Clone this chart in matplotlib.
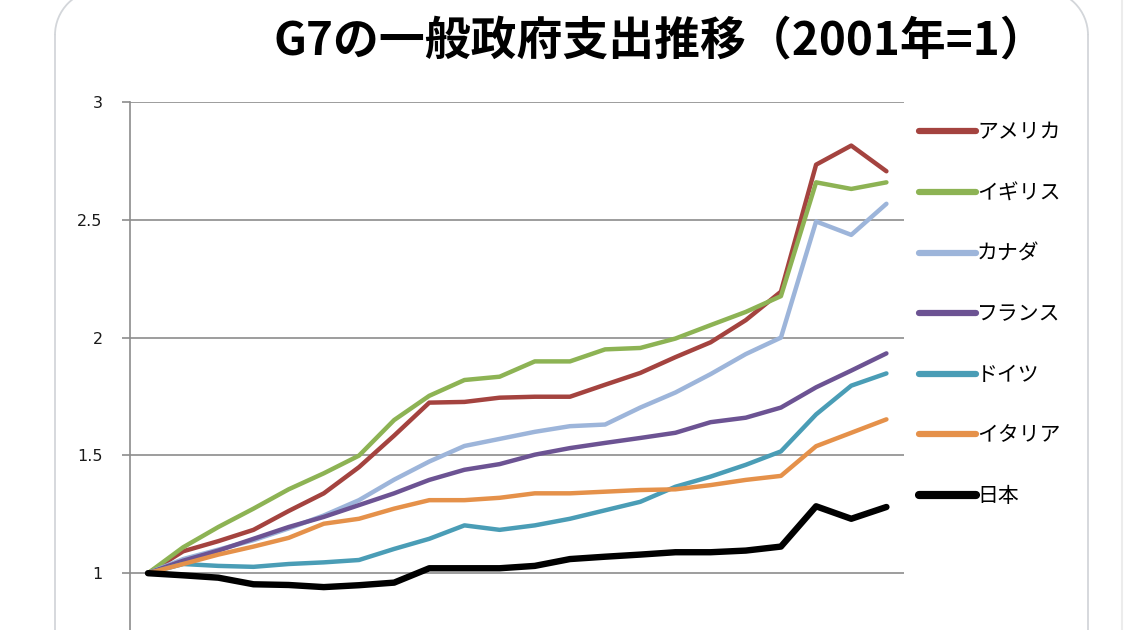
import matplotlib
matplotlib.use("Agg")
import matplotlib.pyplot as plt
from matplotlib.patches import Arc
from matplotlib.lines import Line2D
from matplotlib.transforms import IdentityTransform

years = list(range(2001, 2023))

america = [1.00, 1.093, 1.136, 1.184, 1.264, 1.339, 1.45, 1.584, 1.724, 1.727, 1.745,
           1.749, 1.749, 1.80, 1.85, 1.917, 1.98, 2.074, 2.195, 2.734, 2.815, 2.706]
uk = [1.00, 1.11, 1.196, 1.274, 1.356, 1.424, 1.499, 1.65, 1.753, 1.82, 1.834,
      1.899, 1.899, 1.95, 1.956, 1.996, 2.053, 2.109, 2.176, 2.659, 2.631, 2.659]
canada = [1.00, 1.06, 1.10, 1.14, 1.19, 1.245, 1.31, 1.397, 1.474, 1.54, 1.57,
          1.60, 1.624, 1.631, 1.703, 1.767, 1.845, 1.93, 2.0, 2.493, 2.436, 2.568]
france = [1.00, 1.053, 1.096, 1.146, 1.196, 1.239, 1.289, 1.339, 1.396, 1.439, 1.463,
          1.503, 1.531, 1.553, 1.574, 1.596, 1.641, 1.66, 1.703, 1.789, 1.86, 1.933]
germany = [1.00, 1.039, 1.031, 1.027, 1.039, 1.046, 1.056, 1.103, 1.146, 1.203, 1.184,
           1.203, 1.231, 1.267, 1.303, 1.367, 1.41, 1.46, 1.517, 1.674, 1.796, 1.848]
italy = [1.00, 1.039, 1.079, 1.113, 1.15, 1.21, 1.231, 1.274, 1.31, 1.31, 1.32,
         1.339, 1.339, 1.346, 1.353, 1.356, 1.374, 1.396, 1.413, 1.539, 1.596, 1.653]
japan = [1.00, 0.991, 0.981, 0.953, 0.95, 0.941, 0.949, 0.96, 1.021, 1.021, 1.021,
         1.031, 1.06, 1.07, 1.079, 1.089, 1.089, 1.096, 1.113, 1.284, 1.231, 1.281]

labels = ["アメリカ", "イギリス", "カナダ", "フランス", "ドイツ", "イタリア", "日本"]
series = [america, uk, canada, france, germany, italy, japan]
colors = ["#a4433f", "#8db354", "#9db5da", "#6c5393", "#4a9db6", "#e5914a", "#000000"]
widths = [3.2, 3.2, 3.2, 3.2, 3.2, 3.2, 4.6]

jp = ["Noto Sans CJK JP", "DejaVu Sans"]

fig = plt.figure(figsize=(11.4, 6.3), dpi=100)
W, H = 1140, 630

# card border of the screenshot (pixel coords, origin bottom-left)
border = dict(transform=IdentityTransform(), color="#d3d6da", linewidth=1.3, zorder=-1)
r = 45
fig.add_artist(Line2D([55, 55], [-5, H - 35], **border))
fig.add_artist(Line2D([1088, 1088], [-5, H - 35], **border))
fig.add_artist(Arc((55 + r, H - 35), 2 * r, 2 * r, theta1=90, theta2=180,
                   transform=IdentityTransform(), edgecolor="#d3d6da", linewidth=1.3))
fig.add_artist(Arc((1088 - r, H - 35), 2 * r, 2 * r, theta1=0, theta2=90,
                   transform=IdentityTransform(), edgecolor="#d3d6da", linewidth=1.3))
fig.add_artist(Line2D([1122, 1122], [0, H], transform=IdentityTransform(),
                      color="#ececec", linewidth=1.5, zorder=-1))

# y=3 at 102 px, y=0.5 at 691 px from the top
ax = fig.add_axes([130.4 / W, 1 - 691 / H, (904 - 130.4) / W, (691 - 102) / H])
ax.set_facecolor("none")

x = list(range(len(years)))
for vals, lab, col, lw in zip(series, labels, colors, widths):
    ax.plot(x, vals, color=col, lw=lw, label=lab,
            solid_joinstyle="round", solid_capstyle="round")

ax.set_xlim(-0.5, len(years) - 0.5)
ax.set_ylim(0.5, 3)
ax.set_yticks([1, 1.5, 2, 2.5, 3])
ax.set_yticklabels(["1", "1.5", "2", "2.5", "3"])
ax.set_xticks([])
ax.grid(axis="y", color="#8c8c8c", linewidth=1.2)
ax.set_axisbelow(True)
for s in ["top", "right", "bottom"]:
    ax.spines[s].set_visible(False)
ax.spines["left"].set_color("#8c8c8c")
ax.spines["left"].set_linewidth(1.2)
ax.tick_params(axis="y", length=6, width=1.2, color="#8c8c8c", pad=14,
               labelsize=11.5, labelcolor="#1a1a1a")

fig.text(660 / W, 1 - 41 / H, "G7の一般政府支出推移（2001年=1）", ha="center", va="center",
         fontsize=33, fontweight="bold", family=jp)

leg = ax.legend(loc="upper left", bbox_to_anchor=(900 / W, 1 - 103 / H),
                bbox_transform=fig.transFigure, frameon=False,
                handlelength=2.75, handletextpad=0.05, labelspacing=1.85,
                prop={"family": jp, "size": 15})
for h, lw in zip(leg.get_lines(), widths):
    h.set_linewidth(lw + 1.3)
    h.set_solid_capstyle("round")

fig.savefig("out.png", dpi=100)
